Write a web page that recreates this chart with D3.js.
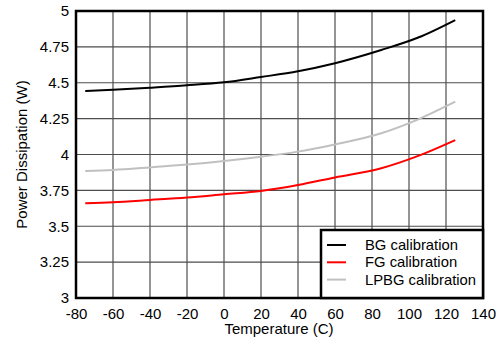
<!DOCTYPE html>
<html><head><meta charset="utf-8">
<script src="https://cdn.jsdelivr.net/npm/d3@7"></script>
<style>body{margin:0;background:#fff}svg{display:block}text{font-family:"Liberation Sans",Arial,sans-serif;fill:#000}</style>
</head><body><svg id="c" width="499" height="344"></svg>
<script>
const temps = [-75, -60, -40, -20, 0, 20, 40, 60, 85, 105, 125];
const bgValues = [4.443, 4.452, 4.466, 4.482, 4.503, 4.54, 4.58, 4.636, 4.728, 4.815, 4.937];
const fgValues = [3.66, 3.667, 3.683, 3.70, 3.723, 3.746, 3.787, 3.84, 3.904, 3.99, 4.10];
const lpbgValues = [3.885, 3.892, 3.91, 3.93, 3.955, 3.985, 4.02, 4.07, 4.148, 4.245, 4.368];
const seriesNames = ["BG calibration", "FG calibration", "LPBG calibration"];
const seriesColors = ["#000000", "#ff0000", "#c0c0c0"];
const xTicks = [-80, -60, -40, -20, 0, 20, 40, 60, 80, 100, 120, 140];
const yTicks = [3, 3.25, 3.5, 3.75, 4, 4.25, 4.5, 4.75, 5];

const FONT = '"Liberation Sans",Arial,sans-serif';
const svg = d3.select("#c");
const L = 76, R = 483, T = 11, B = 298;
const x = d3.scaleLinear().domain([-80, 140]).range([L, R]);
const y = d3.scaleLinear().domain([3, 5]).range([B, T]);

// grid
const g = svg.append("g");
g.selectAll(".vx").data(xTicks).enter().append("line")
  .attr("x1", d => x(d)).attr("x2", d => x(d)).attr("y1", T).attr("y2", B)
  .attr("stroke", "#4d4d4d").attr("stroke-width", 1.2);
g.selectAll(".hy").data(yTicks).enter().append("line")
  .attr("x1", L).attr("x2", R).attr("y1", d => y(d)).attr("y2", d => y(d))
  .attr("stroke", "#4d4d4d").attr("stroke-width", 1.2);

// axes labels
const xa = svg.append("g").attr("transform", `translate(0,${B})`)
  .call(d3.axisBottom(x).tickValues(xTicks).tickSize(0).tickPadding(10).tickFormat(d => String(d)));
xa.select(".domain").remove();
xa.selectAll("text").attr("font-size", 15).style("font-family", FONT).attr("fill", "#000");
const ya = svg.append("g").attr("transform", `translate(${L},0)`)
  .call(d3.axisLeft(y).tickValues(yTicks).tickSize(0).tickPadding(7).tickFormat(d => String(d)));
ya.select(".domain").remove();
ya.selectAll("text").attr("font-size", 15).style("font-family", FONT).attr("fill", "#000");

// series
const allSeries = [bgValues, fgValues, lpbgValues];
const line = d3.line().x((d, i) => x(temps[i])).y(d => y(d)).curve(d3.curveMonotoneX);
allSeries.forEach((vals, k) => {
  svg.append("path").datum(vals).attr("d", line).attr("fill", "none")
    .attr("stroke", seriesColors[k]).attr("stroke-width", 2);
});

// frame
svg.append("rect").attr("x", L).attr("y", T).attr("width", R - L).attr("height", B - T)
  .attr("fill", "none").attr("stroke", "#000").attr("stroke-width", 2.5);

// legend
const lg = svg.append("g");
lg.append("rect").attr("x", 321).attr("y", 230).attr("width", R - 321).attr("height", B - 230)
  .attr("fill", "#fff").attr("stroke", "#000").attr("stroke-width", 2.5);
seriesNames.forEach((n, k) => {
  const yy = 245 + k * 17.3;
  lg.append("line").attr("x1", 327).attr("x2", 346).attr("y1", yy).attr("y2", yy)
    .attr("stroke", seriesColors[k]).attr("stroke-width", 2);
  lg.append("text").attr("x", 365).attr("y", yy + 5).attr("font-size", 14.8).text(n);
});

// titles
svg.append("text").attr("x", 279).attr("y", 334).attr("text-anchor", "middle")
  .attr("font-size", 15).text("Temperature (C)");
svg.append("text").attr("transform", `translate(27,${(T + B) / 2}) rotate(-90)`)
  .attr("text-anchor", "middle").attr("font-size", 15).text("Power Dissipation (W)");
</script></body></html>
